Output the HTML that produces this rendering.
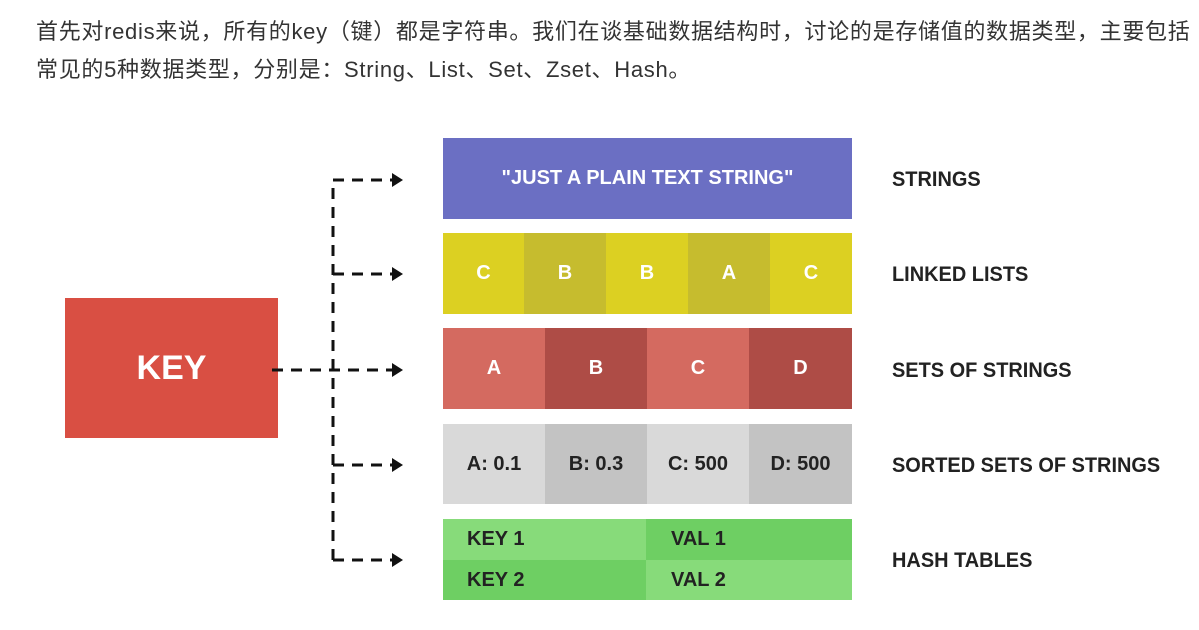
<!DOCTYPE html>
<html><head><meta charset="utf-8"><style>
body{margin:0;width:1199px;height:630px;background:#fff;position:relative;overflow:hidden;font-family:"Liberation Sans","Noto Sans CJK SC",sans-serif}
.t{position:absolute;left:36px;font-size:22px;color:#333;white-space:nowrap;letter-spacing:0.7px}
.b{position:absolute;display:flex;align-items:center;justify-content:center;color:#fff;font-family:"Liberation Sans Narrow","Liberation Sans",sans-serif;font-weight:bold;font-size:20px}
.lab{position:absolute;left:892px;font-family:"Liberation Sans Narrow","Liberation Sans",sans-serif;font-weight:bold;font-size:21px;color:#222;line-height:24px;transform:scaleX(0.95);transform-origin:left center;white-space:nowrap}
.d{color:#222}
</style></head><body>
<div class="t" style="top:14px">首先对redis来说，所有的key（键）都是字符串。我们在谈基础数据结构时，讨论的是存储值的数据类型，主要包括</div>
<div class="t" style="top:52px">常见的5种数据类型，分别是：String、List、Set、Zset、Hash。</div>

<div class="b" style="left:65px;top:298px;width:213px;height:140px;background:#d94f43;font-size:34px">KEY</div>

<svg style="position:absolute;left:0;top:0" width="1199" height="630">
<g stroke="#111" stroke-width="3" fill="none" stroke-dasharray="11,8">
<path d="M333 560 V180 H393"/>
<path d="M333 274 H393"/>
<path d="M272 370 H393"/>
<path d="M333 465 H393"/>
<path d="M333 560 H393"/>
</g>
<g fill="#111">
<path d="M392 173 L403 180 L392 187Z"/>
<path d="M392 267 L403 274 L392 281Z"/>
<path d="M392 363 L403 370 L392 377Z"/>
<path d="M392 458 L403 465 L392 472Z"/>
<path d="M392 553 L403 560 L392 567Z"/>
</g>
</svg>

<div class="b" style="left:443px;top:138px;width:409px;height:81px;background:#6b6fc3">"JUST A PLAIN TEXT STRING"</div>

<div class="b" style="left:443px;top:233px;width:81px;height:81px;background:#dcd022">C</div>
<div class="b" style="left:524px;top:233px;width:82px;height:81px;background:#c6bc2e">B</div>
<div class="b" style="left:606px;top:233px;width:82px;height:81px;background:#dcd022">B</div>
<div class="b" style="left:688px;top:233px;width:82px;height:81px;background:#c6bc2e">A</div>
<div class="b" style="left:770px;top:233px;width:82px;height:81px;background:#dcd022">C</div>

<div class="b" style="left:443px;top:328px;width:102px;height:81px;background:#d46a60">A</div>
<div class="b" style="left:545px;top:328px;width:102px;height:81px;background:#ae4c46">B</div>
<div class="b" style="left:647px;top:328px;width:102px;height:81px;background:#d46a60">C</div>
<div class="b" style="left:749px;top:328px;width:103px;height:81px;background:#ae4c46">D</div>

<div class="b d" style="left:443px;top:424px;width:102px;height:80px;background:#d9d9d9">A: 0.1</div>
<div class="b d" style="left:545px;top:424px;width:102px;height:80px;background:#c3c3c3">B: 0.3</div>
<div class="b d" style="left:647px;top:424px;width:102px;height:80px;background:#d9d9d9">C: 500</div>
<div class="b d" style="left:749px;top:424px;width:103px;height:80px;background:#c3c3c3">D: 500</div>

<div class="b d" style="left:443px;top:519px;width:203px;height:41px;background:#87db7a;justify-content:flex-start;padding-left:24px;box-sizing:border-box">KEY 1</div>
<div class="b d" style="left:646px;top:519px;width:206px;height:41px;background:#6ecf63;justify-content:flex-start;padding-left:25px;box-sizing:border-box">VAL 1</div>
<div class="b d" style="left:443px;top:560px;width:203px;height:40px;background:#6ecf63;justify-content:flex-start;padding-left:24px;box-sizing:border-box">KEY 2</div>
<div class="b d" style="left:646px;top:560px;width:206px;height:40px;background:#87db7a;justify-content:flex-start;padding-left:25px;box-sizing:border-box">VAL 2</div>

<div class="lab" style="top:168px">STRINGS</div>
<div class="lab" style="top:263px">LINKED LISTS</div>
<div class="lab" style="top:359px">SETS OF STRINGS</div>
<div class="lab" style="top:454px">SORTED SETS OF STRINGS</div>
<div class="lab" style="top:549px">HASH TABLES</div>
</body></html>
